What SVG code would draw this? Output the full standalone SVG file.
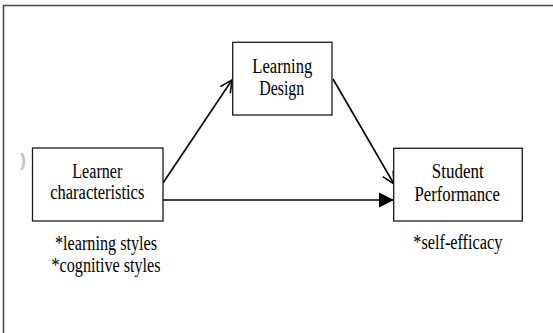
<svg xmlns="http://www.w3.org/2000/svg" width="553" height="333" viewBox="0 0 553 333">
<style>
.box{fill:#fff;stroke:#1a1a1a;stroke-width:1.3}
.t{font-family:'Liberation Serif','Times New Roman',serif;font-size:20px;fill:#000;text-anchor:middle}
.ln{stroke:#000;stroke-width:1.6;fill:none}
</style>
<defs>
<marker id="open" markerWidth="16" markerHeight="16" refX="14" refY="8" orient="auto" markerUnits="userSpaceOnUse">
<path d="M2,2 L14,8 L2,14" fill="none" stroke="#000" stroke-width="1.6"/>
</marker>
<marker id="solid" markerWidth="18" markerHeight="18" refX="16" refY="8" orient="auto" markerUnits="userSpaceOnUse">
<path d="M1,0.5 L16,8 L1,15.5 Z" fill="#000"/>
</marker>
</defs>
<rect width="553" height="333" fill="#fff"/>
<path d="M3.5,333 V5.5 H553" fill="none" stroke="#4a4a4a" stroke-width="1.6"/>
<text x="23" y="166" font-family="Liberation Sans, sans-serif" font-size="19" font-weight="bold" fill="#c4c4c4" text-anchor="middle">)</text>
<g id="connectors">
<line class="ln" x1="163" y1="183" x2="232" y2="80" marker-end="url(#open)"/>
<line class="ln" x1="333" y1="79" x2="394" y2="184" marker-end="url(#open)"/>
<line class="ln" x1="163" y1="200" x2="394" y2="200" stroke-width="2.2" marker-end="url(#solid)"/>
</g>
<g id="learner">
<rect class="box" x="32.5" y="148" width="130.5" height="73"/>
<text class="t" x="97.3" y="177.7" textLength="50" lengthAdjust="spacingAndGlyphs">Learner</text>
<text class="t" x="97.3" y="199" textLength="94" lengthAdjust="spacingAndGlyphs">characteristics</text>
<text class="t" x="106" y="250" textLength="102" lengthAdjust="spacingAndGlyphs">*learning styles</text>
<text class="t" x="106" y="271.5" textLength="109" lengthAdjust="spacingAndGlyphs">*cognitive styles</text>
</g>
<g id="design">
<rect class="box" x="232.7" y="42.3" width="99.3" height="72.7"/>
<text class="t" x="282.3" y="72.7" textLength="60" lengthAdjust="spacingAndGlyphs">Learning</text>
<text class="t" x="281.7" y="94.5" textLength="45" lengthAdjust="spacingAndGlyphs">Design</text>
</g>
<g id="performance">
<rect class="box" x="393.7" y="148.3" width="128.6" height="72.7"/>
<text class="t" x="457.7" y="178.3" textLength="52" lengthAdjust="spacingAndGlyphs">Student</text>
<text class="t" x="457.2" y="200.5" textLength="85.5" lengthAdjust="spacingAndGlyphs">Performance</text>
<text class="t" x="457.8" y="248.5" textLength="89" lengthAdjust="spacingAndGlyphs">*self-efficacy</text>
</g>
</svg>
